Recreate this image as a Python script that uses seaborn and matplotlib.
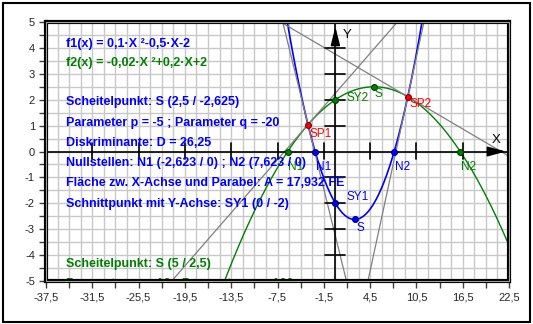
import numpy as np
import pandas as pd
import matplotlib
matplotlib.use("Agg")
import matplotlib.pyplot as plt
from matplotlib.patches import Rectangle
import seaborn as sns

# ---------------- data ----------------
f1_coef = [0.1, -0.5, -2.0]        # f1(x) = 0,1x² - 0,5x - 2
f2_coef = [-0.02, 0.2, 2.0]        # f2(x) = -0,02x² + 0,2x + 2
x_min, x_max = -37.5, 22.5
y_min, y_max = -5, 5

f1_pt_names = ["N1", "N2", "SY1", "S"]
f1_pt_x = [-2.623, 7.623, 0.0, 2.5]
f1_pt_y = [0.0, 0.0, -2.0, -2.625]

f2_pt_names = ["N1", "N2", "SY2", "S"]
f2_pt_x = [-6.18, 16.18, 0.0, 5.0]
f2_pt_y = [0.0, 0.0, 2.0, 2.5]

sp_names = ["SP1", "SP2"]
sp_x = [-3.552, 9.385]
sp_y = [1.037, 2.115]
sp_slope_f1 = [-1.21, 1.377]       # tangents of f1 at SP1, SP2
sp_slope_f2 = [0.342, -0.175]      # tangents of f2 at SP1, SP2

x_tick_values = [-37.5, -31.5, -25.5, -19.5, -13.5, -7.5, -1.5, 4.5, 10.5, 16.5, 22.5]
x_tick_labels = ["-37,5", "-31,5", "-25,5", "-19,5", "-13,5", "-7,5", "-1,5", "4,5", "10,5", "16,5", "22,5"]
y_tick_values = [-5, -4, -3, -2, -1, 0, 1, 2, 3, 4, 5]
y_tick_labels = ["-5", "-4", "-3", "-2", "-1", "0", "1", "2", "3", "4", "5"]

info_f1 = ["f1(x) = 0,1·X ²-0,5·X-2"]
info_f2 = ["f2(x) = -0,02·X ²+0,2·X+2"]
info_f1_details = [
    "Scheitelpunkt: S (2,5 / -2,625)",
    "Parameter p = -5 ; Parameter q = -20",
    "Diskriminante: D = 26,25",
    "Nullstellen: N1 (-2,623 / 0) ; N2 (7,623 / 0)",
    "Fläche zw. X-Achse und Parabel: A = 17,932 FE",
    "Schnittpunkt mit Y-Achse: SY1 (0 / -2)",
]
info_f2_details = [
    "Scheitelpunkt: S (5 / 2,5)",
    "Parameter p = -10 ; Parameter q = -100",
]

# ---------------- style ----------------
sns.set_style("white")
plt.rcParams["font.family"] = ["Liberation Sans", "DejaVu Sans"]

BLUE = "#0000FF"
GREEN = "#008000"
RED = "#FF0000"
GRAY = "#808080"

W, H = 533, 324
fig = plt.figure(figsize=(W / 100, H / 100), dpi=100)
fig.patch.set_facecolor("white")
ax = fig.add_axes([46 / W, 43 / H, 463 / W, 259 / H])
ax.set_facecolor("white")

# grid
for gx in np.arange(x_min, x_max + 0.01, 1.5):
    ax.axvline(gx, color="#c8c8c8", lw=1.0, zorder=0)
for gy in np.arange(y_min, y_max + 0.01, 0.5):
    ax.axhline(gy, color="#c8c8c8", lw=1.0, zorder=0)

# curves
xs = np.linspace(x_min, x_max, 1500)
df = pd.DataFrame({"x": xs, "f1": np.polyval(f1_coef, xs), "f2": np.polyval(f2_coef, xs)})
sns.lineplot(data=df, x="x", y="f2", color=GREEN, lw=1.0, ax=ax, zorder=3)
sns.lineplot(data=df, x="x", y="f1", color=BLUE, lw=1.2, ax=ax, zorder=3)

# tangents at intersection points
for x0, y0, s1, s2 in zip(sp_x, sp_y, sp_slope_f1, sp_slope_f2):
    ax.axline((x0, y0), slope=s1, color=GRAY, lw=0.9, zorder=4)
    ax.axline((x0, y0), slope=s2, color=GRAY, lw=0.9, zorder=4)

# coordinate cross
ax.axhline(0, color="black", lw=1.2, zorder=5)
ax.axvline(0, color="black", lw=1.2, zorder=5)
for tx in np.arange(-31.5, 17, 6):
    ax.plot([tx, tx], [-0.28, 0.32], color="black", lw=1.2, zorder=5)
for ty in [-4, -3, -2, -1, 1, 2, 3, 4]:
    ax.plot([-1.3, 1.3], [ty, ty], color="black", lw=1.2, zorder=5)
ax.annotate("", xy=(0, 4.92), xytext=(0, 4.2),
            arrowprops=dict(arrowstyle="-|>,head_length=1.1,head_width=0.28", color="black", lw=1.2),
            zorder=6)
ax.annotate("", xy=(22.45, 0), xytext=(19.8, 0),
            arrowprops=dict(arrowstyle="-|>,head_length=1.1,head_width=0.3", color="black", lw=1.2),
            zorder=6)
ax.text(1.0, 4.5, "Y", fontsize=9.5, color="black", va="center", ha="left", zorder=6)
ax.text(20.2, 0.45, "X", fontsize=9.5, color="black", va="center", ha="left", zorder=6)

# points
pts = pd.DataFrame({
    "x": f2_pt_x + f1_pt_x + sp_x,
    "y": f2_pt_y + f1_pt_y + sp_y,
    "grp": ["f2"] * 4 + ["f1"] * 4 + ["sp"] * 2,
})
face = {"f2": GREEN, "f1": BLUE, "sp": RED}
edge = {"f2": "#004000", "f1": "#000080", "sp": "#800000"}
for g in ["f2", "f1", "sp"]:
    sub = pts[pts["grp"] == g]
    sns.scatterplot(data=sub, x="x", y="y", s=18, color=face[g], edgecolor=edge[g],
                    linewidth=0.8, ax=ax, zorder=7, legend=False)

# point labels (offsets in pixels: dx, dy of the text's top-left corner)
lab_kw = dict(textcoords="offset pixels", ha="left", va="top", fontsize=8.5, zorder=8)
f1_offsets = [(1, -10), (1, -10), (11, 12), (2, -3)]
f2_offsets = [(0, -10), (1, -10), (11, 8), (1, -1)]
sp_offsets = [(2, -3), (2, -1)]
for n, x0, y0, off in zip(f1_pt_names, f1_pt_x, f1_pt_y, f1_offsets):
    ax.annotate(n, (x0, y0), xytext=off, color=BLUE, **lab_kw)
for n, x0, y0, off in zip(f2_pt_names, f2_pt_x, f2_pt_y, f2_offsets):
    ax.annotate(n, (x0, y0), xytext=off, color=GREEN, **lab_kw)
for n, x0, y0, off in zip(sp_names, sp_x, sp_y, sp_offsets):
    ax.annotate(n, (x0, y0), xytext=off, color=RED, **lab_kw)

# info text block
tkw = dict(fontsize=9, fontweight="bold", ha="left", va="center_baseline", clip_on=True, zorder=9)
tx0 = -34.9
ax.text(tx0, 4.19, info_f1[0], color=BLUE, **tkw)
ax.text(tx0, 3.46, info_f2[0], color=GREEN, **tkw)
for i, s in enumerate(info_f1_details):
    ax.text(tx0, 1.95 - i * 0.78, s, color=BLUE, **tkw)
for i, s in enumerate(info_f2_details):
    ax.text(tx0, -4.27 - i * 0.78, s, color=GREEN, **tkw)

# axes, ticks
ax.set_xlim(x_min, x_max)
ax.set_ylim(y_min, y_max)
ax.set_xticks(x_tick_values)
ax.set_xticklabels(x_tick_labels)
ax.set_yticks(y_tick_values)
ax.set_yticklabels(y_tick_labels)
ax.set_xticks(np.arange(x_min + 3, x_max, 6), minor=True)
ax.set_yticks(np.arange(y_min + 0.5, y_max, 1.0), minor=True)
ax.tick_params(axis="both", which="both", direction="out", length=5, width=1,
               color="#404040", labelsize=8, pad=3, bottom=True, left=True)
ax.set_xlabel("")
ax.set_ylabel("")
for sp in ax.spines.values():
    sp.set_visible(True)
    sp.set_color("black")
    sp.set_linewidth(3.0)
    sp.set_zorder(10)
# grey middle line of the 3-D style frame
ax.add_patch(Rectangle((0, 0), 1, 1, transform=ax.transAxes, fill=False,
                       edgecolor="#a0a0a0", lw=0.8, zorder=11, clip_on=False))

# outer frame
fig.patches.append(Rectangle((3 / W, 2 / H), 527 / W, 319 / H, transform=fig.transFigure,
                             fill=False, edgecolor="black", lw=1.5))

fig.savefig("out.png", dpi=100)
